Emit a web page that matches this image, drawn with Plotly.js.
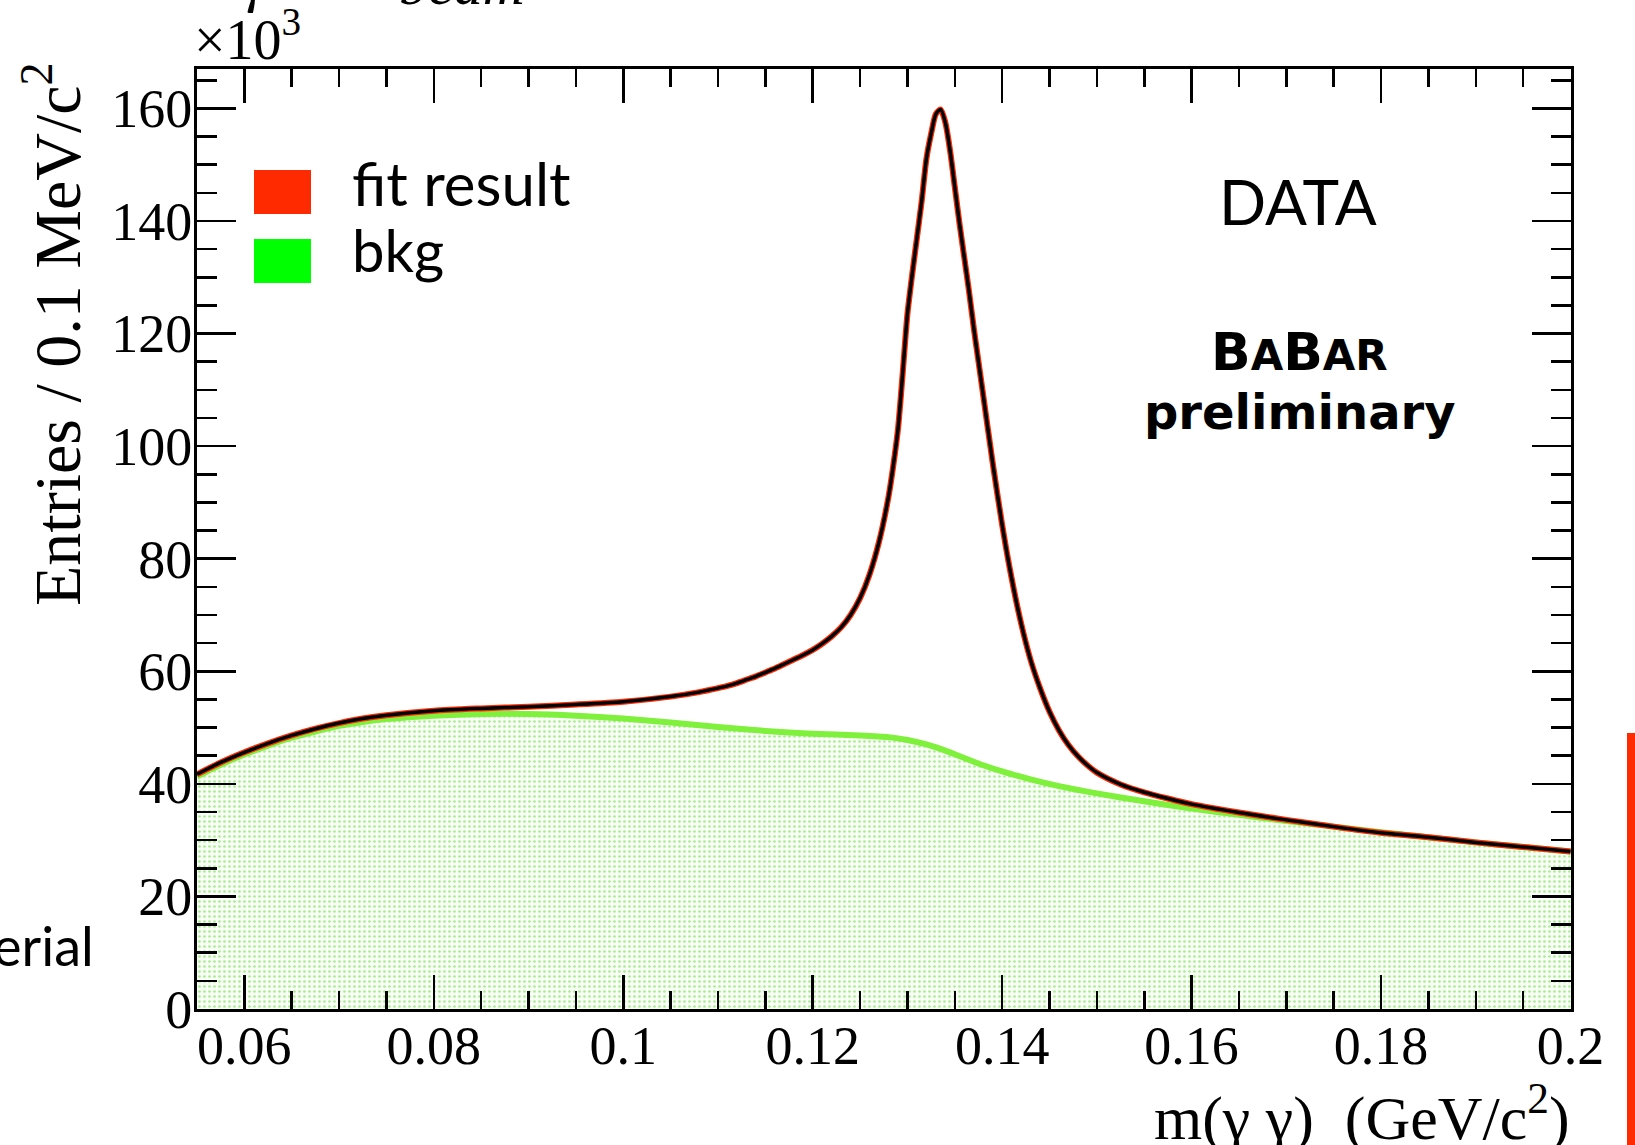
<!DOCTYPE html>
<html>
<head>
<meta charset="utf-8">
<script src="https://cdn.plot.ly/plotly-3.0.1.min.js"></script>
<style>html,body{margin:0;padding:0;background:#fff;}#chart{width:1635px;height:1145px;}</style>
</head>
<body>
<div id="chart"></div>
<script>
// m(gamma gamma) in GeV/c^2, entries in thousands per 0.1 MeV/c^2
const massTotal = [0.055,0.0575,0.06,0.0625,0.065,0.0675,0.07,0.0725,0.075,0.08,0.085,0.09,0.095,0.1,0.105,0.108,0.11,0.111,0.112,0.113,0.114,0.115,0.116,0.117,0.118,0.119,0.12,0.121,0.122,0.123,0.124,0.125,0.126,0.127,0.128,0.1285,0.129,0.1295,0.13,0.1305,0.131,0.1315,0.132,0.1325,0.133,0.1335,0.134,0.1345,0.135,0.1355,0.136,0.1365,0.137,0.1375,0.138,0.139,0.14,0.141,0.142,0.143,0.144,0.145,0.146,0.147,0.148,0.149,0.15,0.1525,0.155,0.1575,0.16,0.165,0.17,0.175,0.18,0.185,0.19,0.195,0.2];
const fitTotal = [41.7,43.8,45.6,47.2,48.6,49.8,50.8,51.6,52.2,53.0,53.4,53.7,54.1,54.6,55.5,56.3,57.0,57.4,57.9,58.5,59.1,59.8,60.5,61.3,62.1,62.9,63.8,64.9,66.2,67.8,70.0,73.0,77.2,83.0,91.0,96.5,103.0,113.0,123.5,130.5,137.0,143.5,151.0,155.5,159.0,159.8,157.5,152.5,146.0,139.5,133.5,127.5,121.0,115.0,109.0,97.0,86.0,76.5,68.5,62.0,57.0,52.8,49.5,46.9,44.9,43.3,42.0,39.9,38.5,37.4,36.4,34.9,33.6,32.4,31.3,30.5,29.6,28.8,28.0];
const dataTotal = fitTotal;
const massBkg = [0.055,0.0575,0.06,0.0625,0.065,0.0675,0.07,0.0725,0.075,0.08,0.085,0.09,0.095,0.1,0.105,0.11,0.115,0.12,0.125,0.128,0.13,0.132,0.134,0.136,0.138,0.14,0.143,0.146,0.15,0.155,0.16,0.165,0.17,0.175,0.18,0.185,0.19,0.195,0.2];
const bkgValues = [41.3,43.4,45.2,46.8,48.2,49.3,50.3,51.0,51.5,52.1,52.4,52.4,52.1,51.6,50.9,50.1,49.4,48.9,48.6,48.3,47.8,47.0,45.9,44.6,43.3,42.2,40.8,39.6,38.3,36.9,35.6,34.5,33.4,32.4,31.4,30.5,29.6,28.8,28.0];
const xTickVals = [0.06,0.08,0.1,0.12,0.14,0.16,0.18,0.2];
const xTickText = ['0.06','0.08','0.1','0.12','0.14','0.16','0.18','0.2'];
const yTickVals = [0,20,40,60,80,100,120,140,160];
const yTickText = ['0','20','40','60','80','100','120','140','160'];
const legendLabels = ['fit result','bkg'];

const serif = 'Liberation Serif, Times New Roman, serif';
const sans = 'Lato, Open Sans, sans-serif';
const wide = 'DejaVu Sans, sans-serif';

const traces = [
  {x: massBkg, y: bkgValues, type: 'scatter', mode: 'lines', fill: 'tozeroy',
   fillpattern: {shape: '.', fgcolor: '#a6ee8e', bgcolor: '#f9fff7', size: 5, solidity: 0.22},
   line: {color: '#7ff03c', width: 6, shape: 'spline', smoothing: 0.6}, hoverinfo: 'skip'},
  {x: massTotal, y: fitTotal, type: 'scatter', mode: 'lines', line: {color: '#ff2a00', width: 6, shape: 'spline', smoothing: 0.7}},
  {x: massTotal, y: dataTotal, type: 'scatter', mode: 'lines', line: {color: '#000000', width: 3.5, shape: 'spline', smoothing: 0.7}}
];

const L = 197, R = 1571, T = 69, B = 1009;
const px = v => (v - L) / (R - L);
const py = v => (B - v) / (B - T);

const layout = {
  width: 1635, height: 1145,
  margin: {l: L, r: 1635 - R, t: T, b: 1145 - B, pad: 0},
  paper_bgcolor: '#ffffff', plot_bgcolor: '#ffffff',
  showlegend: false,
  xaxis: {
    range: [0.055, 0.20005], showgrid: false, zeroline: false,
    showline: true, linecolor: '#000', linewidth: 3, mirror: 'allticks',
    ticks: 'inside', ticklen: 34, tickwidth: 2.5, tickcolor: '#000',
    tickvals: xTickVals, ticktext: xTickText, ticklabelstandoff: -13,
    tickfont: {family: serif, size: 54, color: '#000'},
    minor: {dtick: 0.005, tick0: 0.055, ticks: 'inside', ticklen: 18, tickwidth: 2.5, tickcolor: '#000', showgrid: false}
  },
  yaxis: {
    range: [0, 167], showgrid: false, zeroline: false,
    showline: true, linecolor: '#000', linewidth: 3, mirror: 'allticks',
    ticks: 'inside', ticklen: 39, tickwidth: 2.5, tickcolor: '#000',
    tickvals: yTickVals, ticktext: yTickText, ticklabelstandoff: -9,
    tickfont: {family: serif, size: 54, color: '#000'},
    minor: {dtick: 5, tick0: 0, ticks: 'inside', ticklen: 20, tickwidth: 2.5, tickcolor: '#000', showgrid: false}
  },
  shapes: [
    {type: 'rect', xref: 'paper', yref: 'paper', x0: px(254), x1: px(311), y0: py(214), y1: py(170), fillcolor: '#ff2a00', line: {width: 0}},
    {type: 'rect', xref: 'paper', yref: 'paper', x0: px(254), x1: px(311), y0: py(283), y1: py(239), fillcolor: '#00ff00', line: {width: 0}},
    {type: 'rect', xref: 'paper', yref: 'paper', x0: px(1627), x1: px(1640), y0: py(1150), y1: py(733), fillcolor: '#ff2a00', line: {width: 0}}
  ],
  annotations: [
    {xref: 'paper', yref: 'paper', x: px(52), y: py(334), xanchor: 'center', yanchor: 'middle', textangle: -90, showarrow: false,
     text: 'Entries / 0.1 MeV/c<sup>2</sup>', font: {family: serif, size: 66, color: '#000'}},
    {xref: 'paper', yref: 'paper', x: px(1572), y: py(1113), xanchor: 'right', yanchor: 'middle', showarrow: false,
     text: 'm(γ γ)\u00a0\u00a0(GeV/c<sup>2</sup>)', font: {family: serif, size: 62, color: '#000'}},
    {xref: 'paper', yref: 'paper', x: px(192), y: py(36), xanchor: 'left', yanchor: 'middle', showarrow: false,
     text: '×10<sup>3</sup>', font: {family: serif, size: 56, color: '#000'}},
    {xref: 'paper', yref: 'paper', x: px(350), y: py(183), xanchor: 'left', yanchor: 'middle', showarrow: false,
     text: legendLabels[0], font: {family: sans, size: 60, color: '#000'}},
    {xref: 'paper', yref: 'paper', x: px(350), y: py(250), xanchor: 'left', yanchor: 'middle', showarrow: false,
     text: legendLabels[1], font: {family: sans, size: 58, color: '#000'}},
    {xref: 'paper', yref: 'paper', x: px(1298), y: py(201), xanchor: 'center', yanchor: 'middle', showarrow: false,
     text: 'DATA', font: {family: sans, size: 62, color: '#000'}},
    {xref: 'paper', yref: 'paper', x: px(1299), y: py(352), xanchor: 'center', yanchor: 'middle', showarrow: false,
     text: 'B<span style="font-size:42px">A</span>B<span style="font-size:42px">AR</span>', font: {family: wide, size: 52, color: '#000', weight: 'bold'}},
    {xref: 'paper', yref: 'paper', x: px(1299), y: py(412), xanchor: 'center', yanchor: 'middle', showarrow: false,
     text: 'preliminary', font: {family: wide, size: 48, color: '#000', weight: 'bold'}},
    {xref: 'paper', yref: 'paper', x: px(96), y: py(945), xanchor: 'right', yanchor: 'middle', showarrow: false,
     text: 'erial', font: {family: sans, size: 54, color: '#000'}},
    {xref: 'paper', yref: 'paper', x: px(256), y: py(-18), xanchor: 'center', yanchor: 'middle', showarrow: false,
     text: '<i>γ</i>', font: {family: serif, size: 56, color: '#000'}},
    {xref: 'paper', yref: 'paper', x: px(462), y: py(-15), xanchor: 'center', yanchor: 'middle', showarrow: false,
     text: '<i>beam</i>', font: {family: serif, size: 58, color: '#000'}}
  ]
};

Plotly.newPlot('chart', traces, layout, {staticPlot: true, displayModeBar: false});
</script>
</body>
</html>
